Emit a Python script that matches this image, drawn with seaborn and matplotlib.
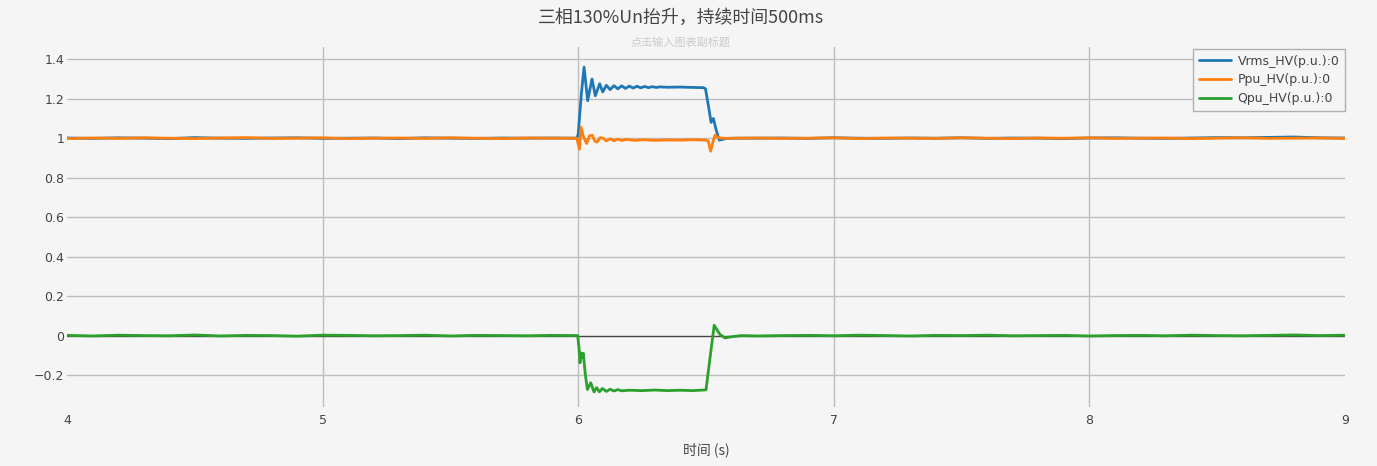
import numpy as np
import pandas as pd
import matplotlib
matplotlib.use("Agg")
import matplotlib.pyplot as plt
import seaborn as sns

# ---------------- data ----------------
series_names = ["Vrms_HV(p.u.):0", "Ppu_HV(p.u.):0", "Qpu_HV(p.u.):0"]
series_colors = ["#1f77b4", "#ff7f0e", "#2ca02c"]

t_pre = [4.0, 4.1, 4.2, 4.3, 4.4, 4.5, 4.6, 4.7, 4.8, 4.9,
         5.0, 5.1, 5.2, 5.3, 5.4, 5.5, 5.6, 5.7, 5.8, 5.9]
t_post = [6.7, 6.8, 6.9, 7.0, 7.1, 7.2, 7.3, 7.4, 7.5, 7.6, 7.7, 7.8,
          7.9, 8.0, 8.1, 8.2, 8.3, 8.4, 8.5, 8.6, 8.7, 8.8, 8.9, 9.0]

vrms_pre = [1.001, 0.999, 1.002, 1.000, 0.998, 1.003, 1.000, 0.999, 1.001, 1.002,
            0.999, 1.000, 1.001, 0.998, 1.002, 1.000, 0.999, 1.001, 1.000, 1.001]
ppu_pre = [0.998, 1.001, 0.999, 1.002, 1.000, 0.998, 1.001, 1.003, 0.999, 1.000,
           1.002, 0.998, 1.000, 1.001, 0.999, 1.002, 1.000, 0.998, 1.001, 1.000]
qpu_pre = [0.001, -0.002, 0.002, 0.000, -0.001, 0.003, -0.002, 0.001, 0.000, -0.003,
           0.002, 0.001, -0.001, 0.000, 0.002, -0.002, 0.001, 0.000, -0.001, 0.001]

vrms_post = [1.000, 1.001, 0.999, 1.002, 1.000, 0.999, 1.001, 1.000, 1.002, 0.999, 1.001, 1.000,
             0.998, 1.001, 1.002, 1.000, 0.999, 1.001, 1.003, 1.002, 1.004, 1.006, 1.002, 1.001]
ppu_post = [1.001, 0.999, 1.000, 1.002, 0.998, 1.001, 1.000, 0.999, 1.002, 1.000, 0.998, 1.001,
            1.000, 1.002, 0.999, 1.000, 1.001, 0.998, 1.000, 1.002, 0.999, 1.000, 1.001, 0.999]
qpu_post = [-0.002, 0.000, 0.001, -0.001, 0.002, 0.000, -0.002, 0.001, 0.000, 0.002, -0.001, 0.000,
            0.001, -0.002, 0.000, 0.001, -0.001, 0.002, 0.000, -0.001, 0.001, 0.003, 0.000, 0.002]

# transient segments (event from 6.0 s to ~6.5 s)
vrms_t = [5.995, 6.0, 6.012, 6.023, 6.037, 6.054, 6.067, 6.084, 6.096, 6.11, 6.125, 6.14,
          6.155, 6.17, 6.185, 6.2, 6.215, 6.23, 6.245, 6.26, 6.275, 6.29, 6.305, 6.32,
          6.35, 6.4, 6.45, 6.49, 6.498, 6.51, 6.52, 6.529, 6.54, 6.552, 6.565, 6.58, 6.62]
vrms_v = [1.000, 1.02, 1.22, 1.36, 1.19, 1.30, 1.215, 1.276, 1.234, 1.268, 1.246, 1.266,
          1.250, 1.265, 1.252, 1.264, 1.254, 1.263, 1.255, 1.262, 1.256, 1.261, 1.257, 1.260,
          1.258, 1.259, 1.257, 1.256, 1.25, 1.16, 1.08, 1.10, 1.04, 0.99, 0.994, 0.999, 1.000]

ppu_t = [5.995, 6.0, 6.005, 6.011, 6.02, 6.033, 6.044, 6.055, 6.065, 6.074, 6.086, 6.097,
         6.11, 6.125, 6.14, 6.155, 6.17, 6.19, 6.22, 6.26, 6.3, 6.35, 6.4, 6.45, 6.5,
         6.509, 6.518, 6.526, 6.535, 6.55, 6.58, 6.62]
ppu_v = [1.000, 0.97, 0.944, 1.055, 1.01, 0.973, 1.012, 1.015, 0.985, 0.98, 1.003, 1.0,
         0.986, 0.997, 0.987, 0.995, 0.988, 0.994, 0.989, 0.992, 0.989, 0.991, 0.990, 0.992, 0.990,
         0.985, 0.934, 0.975, 1.015, 1.002, 0.999, 1.000]

qpu_t = [5.998, 6.003, 6.007, 6.011, 6.015, 6.02, 6.028, 6.036, 6.049, 6.062, 6.072, 6.083,
         6.095, 6.11, 6.125, 6.14, 6.155, 6.17, 6.2, 6.25, 6.3, 6.35, 6.4, 6.45, 6.49, 6.5,
         6.515, 6.532, 6.545, 6.555, 6.574, 6.6, 6.64]
qpu_v = [0.0, -0.06, -0.138, -0.088, -0.11, -0.09, -0.2, -0.273, -0.239, -0.286, -0.264, -0.285,
         -0.268, -0.283, -0.272, -0.281, -0.274, -0.28, -0.277, -0.279, -0.276, -0.279, -0.277, -0.279,
         -0.276, -0.275, -0.12, 0.052, 0.025, 0.005, -0.012, -0.006, 0.0]

y_ticks = [-0.2, 0, 0.2, 0.4, 0.6, 0.8, 1, 1.2, 1.4]
y_tick_labels = ["\u22120.2", "0", "0.2", "0.4", "0.6", "0.8", "1", "1.2", "1.4"]
x_ticks = [4, 5, 6, 7, 8, 9]
x_tick_labels = ["4", "5", "6", "7", "8", "9"]

title_text = "三相130%Un抬升，持续时间500ms"
subtitle_text = "点击输入图表副标题"
x_label = "时间 (s)"

# ---------------- build long-form table ----------------
frames = []
for name, tp, vp, tt, vt, tq, vq in [
    (series_names[0], t_pre, vrms_pre, vrms_t, vrms_v, t_post, vrms_post),
    (series_names[1], t_pre, ppu_pre, ppu_t, ppu_v, t_post, ppu_post),
    (series_names[2], t_pre, qpu_pre, qpu_t, qpu_v, t_post, qpu_post),
]:
    tx = list(tp) + list(tt) + list(tq)
    vx = list(vp) + list(vt) + list(vq)
    frames.append(pd.DataFrame({"t": tx, "v": vx, "series": name}))
df = pd.concat(frames, ignore_index=True)

# ---------------- plot ----------------
sns.set_theme(style="white")
plt.rcParams["font.family"] = ["Noto Sans CJK SC", "DejaVu Sans"]
plt.rcParams["axes.unicode_minus"] = True

bg = "#f5f5f5"
fig = plt.figure(figsize=(13.77, 4.66), dpi=100, facecolor=bg)
ax = fig.add_axes([67 / 1377, 1 - 407 / 466, (1345 - 67) / 1377, (407 - 47) / 466])
ax.set_facecolor(bg)

sns.lineplot(data=df, x="t", y="v", hue="series", hue_order=series_names,
             palette=series_colors, estimator=None, sort=True, linewidth=2.0,
             ax=ax, zorder=3)

ax.set_xlim(4, 9)
ax.set_ylim(-0.362, 1.462)
ax.set_xticks(x_ticks)
ax.set_xticklabels(x_tick_labels, family=["DejaVu Sans"], fontsize=9, color="#444444")
ax.set_yticks(y_ticks)
ax.set_yticklabels(y_tick_labels, family=["DejaVu Sans"], fontsize=9, color="#444444")
ax.tick_params(axis="both", length=0)
ax.tick_params(axis="y", pad=2)
ax.tick_params(axis="x", pad=5)

ax.grid(True, color="#bdbdbd", linewidth=1.0, zorder=0)
xg = ax.get_xgridlines()
xg[0].set_visible(False)
xg[-1].set_visible(False)
for yt, gl in zip(y_ticks, ax.get_ygridlines()):
    if yt == 0:
        gl.set_color("#444444")
        gl.set_zorder(2)
for s in ax.spines.values():
    s.set_visible(False)

ax.set_xlabel(x_label, fontsize=10, color="#444444", labelpad=11)
ax.set_ylabel("")

leg = ax.legend(loc="upper right", bbox_to_anchor=(1.0, 1 - 2 / 360), frameon=True,
                fancybox=False, edgecolor="#b0b0b0", facecolor=bg, framealpha=1.0,
                fontsize=9, handlelength=2.6, handletextpad=0.5, labelspacing=0.45,
                borderpad=0.45, borderaxespad=0.0, title=None)
leg.get_frame().set_linewidth(1.0)
for txt in leg.get_texts():
    txt.set_color("#444444")
    txt.set_family(["DejaVu Sans"])
for ln in leg.get_lines():
    ln.set_linewidth(2.0)

fig.text(681 / 1377, 1 - 18 / 466, title_text, ha="center", va="center",
         fontsize=12.9, color="#444444")
fig.text(681 / 1377, 1 - 42 / 466, subtitle_text, ha="center", va="center",
         fontsize=8, color="#cccccc")

fig.savefig("out.png", dpi=100, facecolor=bg)
